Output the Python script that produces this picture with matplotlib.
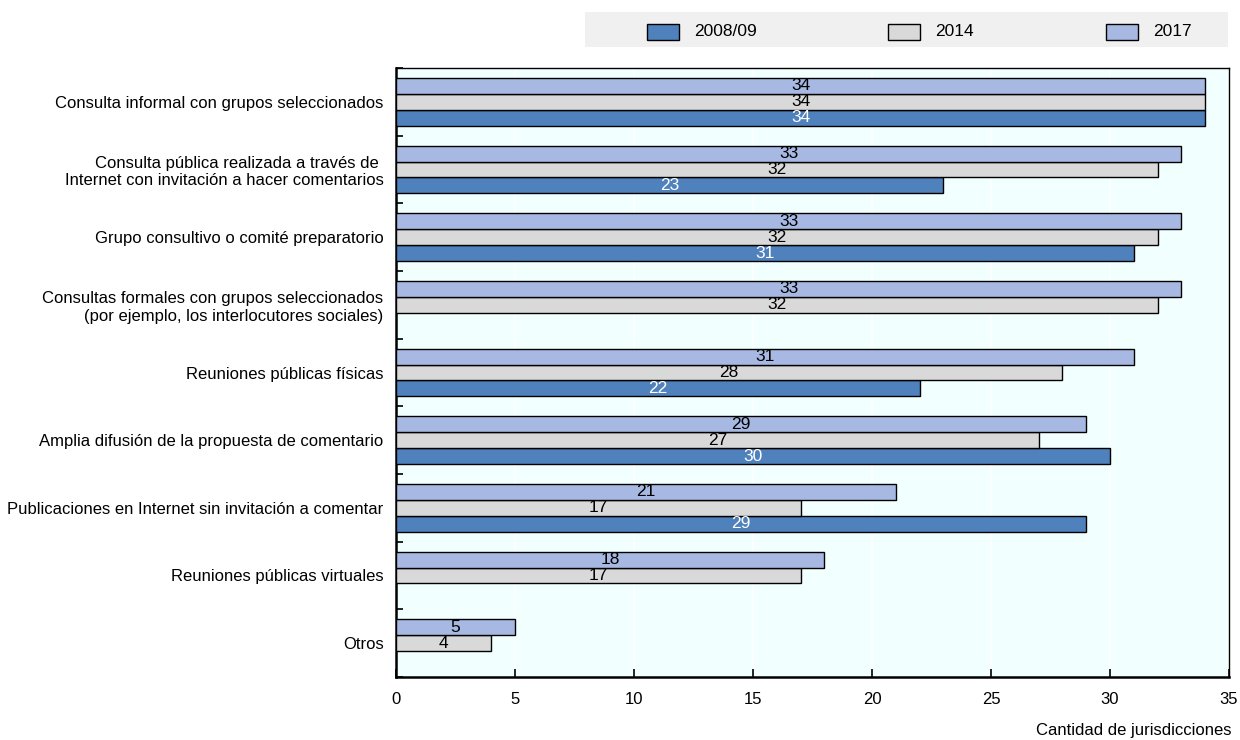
import numpy as np
import matplotlib.pyplot as plt
from matplotlib.patches import Rectangle
from matplotlib.ticker import FixedLocator

plt.rcParams['font.family'] = ['Liberation Sans', 'DejaVu Sans']

categories = [
    "Consulta informal con grupos seleccionados",
    "Consulta pública realizada a través de \nInternet con invitación a hacer comentarios",
    "Grupo consultivo o comité preparatorio",
    "Consultas formales con grupos seleccionados\n(por ejemplo, los interlocutores sociales)",
    "Reuniones públicas físicas",
    "Amplia difusión de la propuesta de comentario",
    "Publicaciones en Internet sin invitación a comentar",
    "Reuniones públicas virtuales",
    "Otros",
]
series_names = ["2008/09", "2014", "2017"]
v2008 = [34, 23, 31, np.nan, 22, 30, 29, np.nan, np.nan]
v2014 = [34, 32, 32, 32, 28, 27, 17, 17, 4]
v2017 = [34, 33, 33, 33, 31, 29, 21, 18, 5]
colors = ["#4F81BD", "#D9D9D9", "#A7B9E3"]
label_colors = ["white", "black", "black"]

W, H = 1240, 740
fig = plt.figure(figsize=(W / 100, H / 100), dpi=100)
ax = fig.add_axes([396 / W, 1 - 677 / H, (1229 - 396) / W, (677 - 68) / H])
ax.set_facecolor("#F2FFFF")

y = np.arange(len(categories))
h = 0.235
offsets = [h, 0, -h]  # 2008/09 lowest, 2017 on top within each group
for vals, name, col, lc, off in zip([v2008, v2014, v2017], series_names, colors, label_colors, offsets):
    vals = np.array(vals, dtype=float)
    ax.barh(y + off, vals, height=h, color=col, edgecolor="black", linewidth=1, label=name, zorder=3)
    for yi, v in zip(y, vals):
        if not np.isnan(v):
            ax.text(v / 2, yi + off, f"{int(v)}", ha="center", va="center", color=lc, fontsize=12.5, zorder=4)

ax.set_xlim(0, 35)
ax.set_ylim(len(categories) - 0.5, -0.5)
ax.set_xticks(np.arange(0, 36, 5))
ax.set_yticks(y)
ax.set_yticklabels(categories, fontsize=12)
ax.yaxis.set_minor_locator(FixedLocator(np.arange(-0.5, len(categories), 1)))
ax.tick_params(axis="y", which="major", length=0, pad=9)
ax.tick_params(axis="y", which="minor", direction="in", length=5, width=1.2)
ax.tick_params(axis="x", direction="in", length=6, width=1.2, labelsize=12, pad=11)
ax.grid(axis="x", color="white", linewidth=1.2, zorder=1)
for s in ax.spines.values():
    s.set_color("black")
    s.set_linewidth(1.0)
ax.spines["left"].set_linewidth(1.8)
ax.spines["bottom"].set_linewidth(1.8)

fig.text(1231 / W, 1 - 731 / H, "Cantidad de jurisdicciones", ha="right", va="center", fontsize=12)

# legend strip above the plot
fig.patches.append(Rectangle((585 / W, 1 - 47 / H), (1228 - 585) / W, 35 / H, transform=fig.transFigure,
                             facecolor="#F0F0F0", edgecolor="none", zorder=0))
legend_x = [647, 888, 1106]
for lx, name, col in zip(legend_x, series_names, colors):
    fig.patches.append(Rectangle((lx / W, 1 - 40 / H), 32 / W, 16 / H, transform=fig.transFigure,
                                 facecolor=col, edgecolor="black", linewidth=1, zorder=1))
    fig.text((lx + 47) / W, 1 - 32 / H, name, ha="left", va="center", fontsize=12.5)

fig.savefig("out.png", dpi=100)
